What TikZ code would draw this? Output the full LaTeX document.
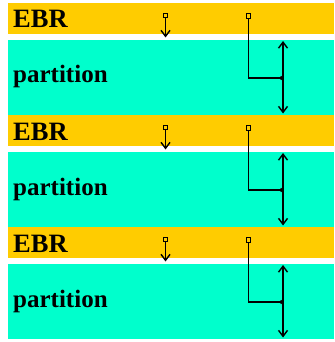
\documentclass[tikz,border=0pt]{standalone}
\usepackage{fontspec}
\setmainfont{Liberation Serif}
\usetikzlibrary{arrows.meta}
\definecolor{ebrgold}{HTML}{FFCC00}
\definecolor{partaqua}{HTML}{00FFCC}
\begin{document}
\begin{tikzpicture}[x=1pt,y=-1pt,
  band/.style={inner sep=0pt, outer sep=0pt, anchor=north west, minimum width=326pt},
  ebrband/.style={band, fill=ebrgold, minimum height=31pt},
  partband/.style={band, fill=partaqua, minimum height=75pt},
  ebrlabel/.style={anchor=base west, inner sep=0pt, font=\fontsize{26.5}{26.5}\selectfont\bfseries},
  partlabel/.style={anchor=base west, inner sep=0pt, font=\fontsize{25}{25}\selectfont\bfseries},
  srcbox/.style={draw, line width=1pt, minimum size=4.5pt, inner sep=0pt},
  link/.style={line width=1.7pt},
  barb/.tip={Straight Barb[length=6pt,width=9pt,line width=1.4pt]}
]
\useasboundingbox (0,0) rectangle (334,342);
\foreach \k in {0,1,2} {
  \pgfmathsetmacro\off{112*\k}
  % one EBR header followed by its partition
  \node[ebrband]  (ebr\k)  at (8,3+\off)  {};
  \node[partband] (part\k) at (8,40+\off) {};
  \node[ebrlabel]  (el\k) at (13,28+\off) {EBR};
  \node[partlabel] (pl\k) at (13,83+\off) {partition};
  % pointer to the partition start
  \node[srcbox] (s\k) at (165.5,15.5+\off) {};
  \coordinate (t\k) at (165.5,37.5+\off);
  \draw[link,-{barb}] (s\k) -- (t\k);
  % pointer to the partition extent
  \node[srcbox] (r\k) at (248.5,16+\off) {};
  \coordinate (j\k)  at (283,78+\off);
  \coordinate (up\k) at (283,41+\off);
  \coordinate (dn\k) at (283,113.5+\off);
  \draw[link,-{Circle[length=3.5pt]}] (r\k) |- (j\k);
  \draw[link,{barb}-{barb}] (up\k) -- (dn\k);
}
\end{tikzpicture}
\end{document}
